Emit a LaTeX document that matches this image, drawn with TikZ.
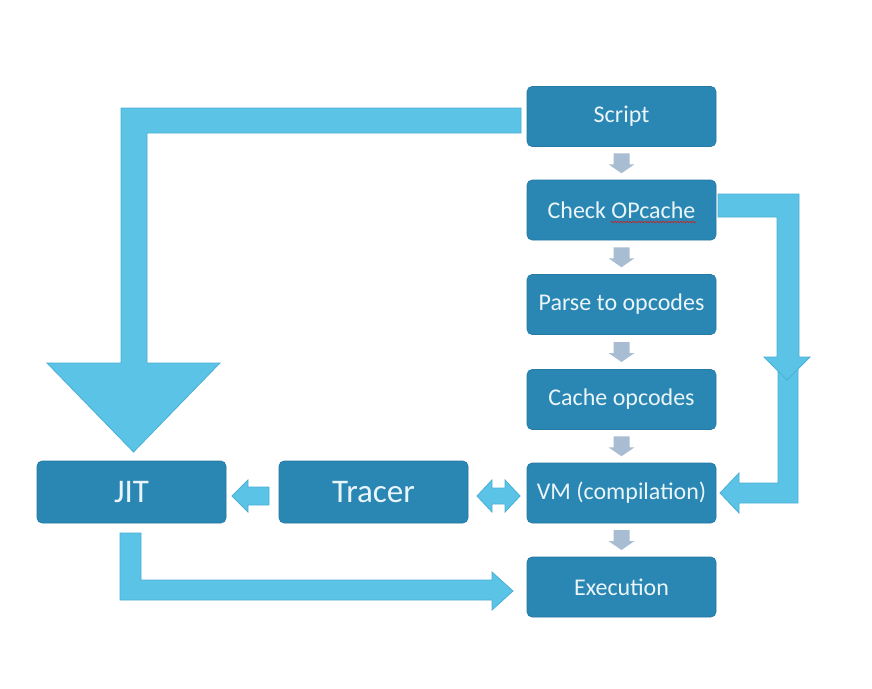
\documentclass[tikz,border=0pt]{standalone}
\usepackage{fontspec}
\setmainfont{Carlito}
\usetikzlibrary{calc,decorations.pathmorphing}
\definecolor{boxblue}{HTML}{2A86B2}
\definecolor{boxedge}{HTML}{2479A5}
\definecolor{boxtext}{HTML}{EAF5FA}
\definecolor{arrowfill}{HTML}{5BC4E6}
\definecolor{arrowedge}{HTML}{4AAFD6}
\definecolor{grayfill}{HTML}{A8BDD2}
\definecolor{squiggle}{HTML}{D02020}
\begin{document}
\begin{tikzpicture}[x=1pt,y=-1pt,
  box/.style={draw=boxedge, line width=0.6pt, fill=boxblue, rounded corners=5pt,
    minimum width=189pt, minimum height=60pt, inner sep=0pt,
    text=boxtext, font=\fontsize{24}{28}\selectfont},
  bigbox/.style={box, minimum height=62pt, font=\fontsize{33}{38}\selectfont},
  blockarrow/.style={fill=arrowfill, draw=arrowedge, line width=0.8pt, line join=miter},
  grayarrow/.style={fill=grayfill, draw=none}]
\fill[white] (0,0) rectangle (872,688);
\useasboundingbox (0,0) rectangle (872,688);

% nodes
\node[box] (script) at (621.5,116.5) {Script};
\node[box] (check)  at (621.5,210)   {Check OPcache};
\node[box] (parse)  at (621.5,304.5) {Parse to opcodes};
\node[box] (cache)  at (621.5,399.5) {Cache opcodes};
\node[box] (vm)     at (621.5,493)   {VM (compilation)};
\node[box] (exec)   at (621.5,587)   {Execution};
\node[bigbox] (jit)    at (131.5,492) {JIT};
\node[bigbox] (tracer) at (373.5,492) {Tracer};

% spell-check squiggle under OPcache
\draw[squiggle, line width=0.6pt, decorate,
  decoration={snake, amplitude=0.8pt, segment length=3pt}] (611,222) -- (696,222);

% gray down arrows between the column boxes
\foreach \a/\b in {script/check, check/parse, parse/cache, cache/vm, vm/exec}{
  \coordinate (m) at ($(\a.south)!0.5!(\b.north)$);
  \fill[grayarrow] (m) ++(-8,-10) -- ++(16,0) -- ++(0,11) -- ++(5,0)
    -- ++(-13,9) -- ++(-13,-9) -- ++(5,0) -- cycle;
}

% big bent arrow Script -> JIT
\filldraw[blockarrow] (521,108) -- (121,108) -- (121,363) -- (47,363)
  -- (133.5,452) -- (220,363) -- (147,363) -- (147,133) -- (521,133) -- cycle;

% bent arrow JIT -> Execution
\filldraw[blockarrow] (120,533) -- (141,533) -- (141,580) -- (492,580)
  -- (492,572) -- (513,591) -- (492,610) -- (492,600) -- (120,600) -- cycle;

% Tracer -> JIT
\filldraw[blockarrow] (269,487) -- (248,487) -- (248,480) -- (232,496)
  -- (248,512) -- (248,505) -- (269,505) -- cycle;

% Tracer <-> VM
\filldraw[blockarrow] (477,496) -- (492,480) -- (492,488) -- (505,488)
  -- (505,480) -- (520,496) -- (505,512) -- (505,504) -- (492,504)
  -- (492,512) -- cycle;

% Check OPcache -> ... -> VM (lower part first)
\filldraw[blockarrow] (798,365) -- (798,503) -- (739,503) -- (739,513)
  -- (720,493) -- (739,473) -- (739,483) -- (778,483) -- (778,365) -- cycle;
\filldraw[blockarrow] (718,194) -- (799,194) -- (799,357) -- (810,357)
  -- (787,380) -- (764,357) -- (777,357) -- (777,217) -- (718,217) -- cycle;
\end{tikzpicture}
\end{document}
